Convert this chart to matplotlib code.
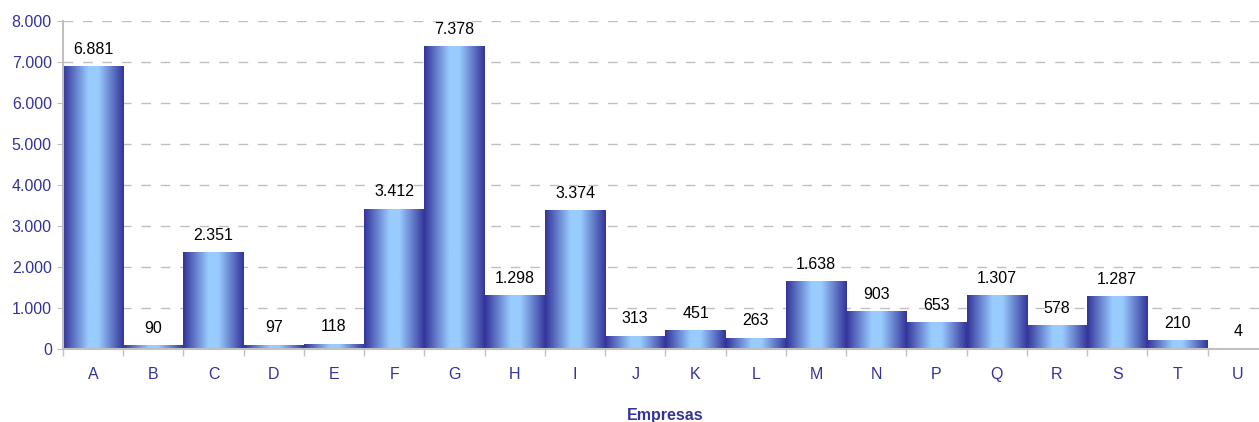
import matplotlib.pyplot as plt
import numpy as np
from matplotlib.colors import LinearSegmentedColormap
from matplotlib.ticker import FuncFormatter

empresas = ["A", "B", "C", "D", "E", "F", "G", "H", "I", "J",
            "K", "L", "M", "N", "P", "Q", "R", "S", "T", "U"]
valores = [6881, 90, 2351, 97, 118, 3412, 7378, 1298, 3374, 313,
           451, 263, 1638, 903, 653, 1307, 578, 1287, 210, 4]


def miles(v):
    return f"{int(round(v)):,}".replace(",", ".")


plt.rcParams["font.family"] = ["Liberation Sans", "DejaVu Sans"]
azul = "#333399"
gris = "#c0c0c0"

fig = plt.figure(figsize=(12.59, 4.22), dpi=100)
# the last category runs slightly past the right edge, as in the original
ax = fig.add_axes([0.050, 0.173, 0.957, 0.777])

cmap = LinearSegmentedColormap.from_list(
    "barra", [(0.0, "#333399"), (0.42, "#99ccff"), (0.58, "#99ccff"), (1.0, "#333399")]
)
grad = np.linspace(0, 1, 256).reshape(1, -1)

x = np.arange(len(empresas))
for xi, v in zip(x, valores):
    ax.imshow(grad, cmap=cmap, aspect="auto", extent=(xi - 0.5, xi + 0.5, 0, v),
              origin="lower", zorder=2, interpolation="bicubic")
    ax.annotate(miles(v), (xi, v), xytext=(0, 7), textcoords="offset points",
                ha="center", va="bottom", fontsize=11.5, color="black")

ax.set_xlim(-0.5, len(empresas) - 0.5)
ax.set_ylim(0, 8000)
ax.set_yticks(np.arange(0, 8001, 1000))
ax.yaxis.set_major_formatter(FuncFormatter(lambda v, p: miles(v)))
ax.set_xticks(x)
ax.set_xticklabels(empresas)
ax.set_xticks(np.arange(-0.5, len(empresas)), minor=True)

ax.tick_params(axis="x", which="major", length=0, pad=13, labelsize=11.5, labelcolor=azul)
ax.tick_params(axis="x", which="minor", length=5, color=gris, width=1)
ax.tick_params(axis="y", length=4, color=gris, labelsize=11.5, labelcolor=azul, pad=4)

ax.grid(axis="y", color=gris, linestyle=(0, (7, 7)), linewidth=1, zorder=0)
ax.set_axisbelow(True)
for s in ("top", "right"):
    ax.spines[s].set_visible(False)
for s in ("left", "bottom"):
    ax.spines[s].set_color(gris)
    ax.spines[s].set_linewidth(1.5)
    ax.spines[s].set_zorder(3)

ax.set_xlabel("Empresas", fontsize=11.5, fontweight="bold", color=azul, labelpad=19)

fig.savefig("out.png", dpi=100)
